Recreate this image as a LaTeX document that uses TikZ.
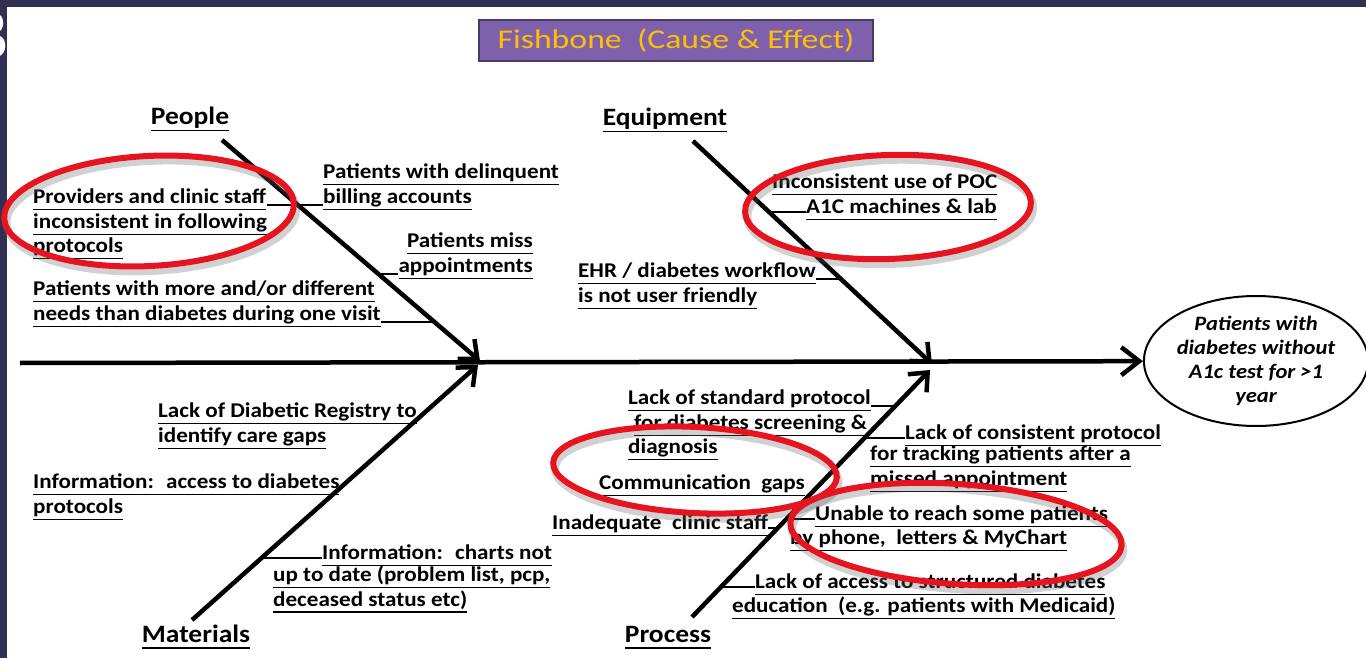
\documentclass[tikz,border=0pt]{standalone}
\usepackage{fontspec}
\setmainfont{Carlito}[FakeStretch=1.1]
\newfontfamily\titlefont{Carlito}[FakeStretch=1.25]
\newfontfamily\numfont{Liberation Serif}
\usetikzlibrary{arrows.meta,shapes.geometric}

\definecolor{slidebar}{RGB}{50,48,82}
\definecolor{titlefill}{RGB}{126,96,172}
\definecolor{titleborder}{RGB}{70,60,100}
\definecolor{titletext}{RGB}{255,192,0}
\definecolor{ringred}{RGB}{230,20,30}

% underline with a fixed depth
\newlength{\ulgap}
\setlength{\ulgap}{6.5pt}
\newcommand{\uln}[1]{\setbox0=\hbox{#1}\rlap{\rule[-\ulgap]{\wd0}{1.3pt}}\box0}

\newcommand{\causefont}{\fontsize{21}{24.5}\selectfont\bfseries}
\newcommand{\labelfont}{\fontsize{25}{28}\selectfont\bfseries}
\newcommand{\effectfont}{\fontsize{20.5}{24}\selectfont\bfseries\itshape}

\begin{document}
\begin{tikzpicture}[x=1pt,y=1pt,yscale=-1,
	bone/.style={line width=4.5pt,-{Straight Barb[length=15pt,width=26pt]}},
	spine/.style={line width=4.5pt,-{Straight Barb[length=18pt,width=28pt]}},
	branch/.style={line width=1.3pt},
	cause/.style={anchor=north west,inner sep=0pt,align=left,font=\causefont,execute at begin node=\strut},
	bonelabel/.style={anchor=base,inner sep=0pt,font=\labelfont},
	ring/.style={draw=ringred,line width=6pt},
	ringshade/.style={draw=black!60,opacity=.3,line width=8pt}]
	\useasboundingbox (0,0) rectangle (1366,658);
	
	%Slide frame
	\fill[slidebar] (0,0) rectangle (1366,7);
	\fill[slidebar] (0,0) rectangle (7,658);
	\node[anchor=east,inner sep=0pt,text=white,font=\numfont\fontsize{70}{70}\selectfont] (slideno) at (9,36) {3};
	
	% Title
	\node[draw=titleborder,line width=1.5pt,fill=titlefill,text=titletext,font=\titlefont\fontsize{27}{27}\selectfont,minimum width=394pt,minimum height=41pt,inner sep=0pt] (title) at (676,40.5) {Fishbone~ (Cause \& Effect)};
	
	% Effect
	\node[ellipse,draw,line width=2pt,minimum width=212pt,minimum height=130pt,inner sep=0pt,align=center,font=\effectfont] (effect) at (1256,361) {Patients with\\diabetes without\\A1c test for >1\\year};
	
	\coordinate (tail) at (20,363);
	\coordinate (peopleTop) at (222,140);
	\coordinate (peopleTip) at (480,361);
	\coordinate (equipTop) at (693,141);
	\coordinate (equipTip) at (932,364);
	\coordinate (matBot) at (192,620);
	\coordinate (matTip) at (478,365);
	\coordinate (procBot) at (692,617);
	\coordinate (procTip) at (930,370);
	
	%Straight Lines
	\draw[spine] (tail) -- (effect);
	\draw[bone] (peopleTop) -- (peopleTip);
	\draw[bone] (equipTop) -- (equipTip);
	\draw[bone] (matBot) -- (matTip);
	\draw[bone] (procBot) -- (procTip);
	
	% Bone labels
	\node[bonelabel] (people) at (190,125) {\uln{People}};
	\node[bonelabel] (equipment) at (665,126) {\uln{Equipment}};
	\node[bonelabel] (materials) at (196,642) {\uln{Materials}};
	\node[bonelabel] (process) at (668,642) {\uln{Process}};
	
	% Text Node
	\node[cause] (provid) at (33,189) {\uln{Providers and clinic staff}\\\uln{inconsistent in following}\\\uln{protocols}};
	\node[cause] (billing) at (323,164) {\uln{Patients with delinquent}\\\uln{billing accounts}};
	\node[cause,anchor=north east,align=right] (miss) at (533,233) {\uln{Patients miss}\\\uln{appointments}};
	\node[cause] (needs) at (33,281) {\uln{Patients with more and/or different}\\\uln{needs than diabetes during one visit}};
	% Text Node
	\node[cause] (poc1) at (772,171) {\uln{Inconsistent use of POC}};
	\node[cause] (poc2) at (806,196) {\uln{A1C machines \& lab}};
	\node[cause] (ehr) at (578,263) {\uln{EHR / diabetes workflow}\\\uln{is not user friendly}};
	% Text Node
	\node[cause] (registry) at (158,403) {\uln{Lack of Diabetic Registry to}\\\uln{identify care gaps}};
	\node[cause] (access) at (33,474) {\uln{Information:~ access to diabetes}\\\uln{protocols}};
	\node[cause] (charts1) at (322,542) {\uln{Information:~ charts not}};
	\node[cause] (charts2) at (273,566) {\uln{up to date (problem list, pcp,}\\\uln{deceased status etc)}};
	% Text Node
	\node[cause] (standard) at (628,390) {\uln{Lack of standard protocol}\\\hspace*{6pt}\uln{for diabetes screening \&}\\\uln{diagnosis}};
	\node[cause] (commgaps) at (599,472) {\uln{Communication~ gaps}};
	\node[cause] (tracking1) at (905,422) {\uln{Lack of consistent protocol}};
	\node[cause] (tracking2) at (870,446) {\uln{for tracking patients after a}\\\uln{missed appointment}};
	\node[cause] (staff) at (552,512) {\uln{Inadequate~ clinic staff}};
	\node[cause] (unable1) at (815,503) {\uln{Unable to reach some patients}};
	\node[cause] (unable2) at (790,527) {\uln{by phone,~ letters \& MyChart}};
	\node[cause] (educ1) at (755,571) {\uln{Lack of access to structured diabetes}};
	\node[cause] (educ2) at (732,595) {\uln{education~ (e.g. patients with Medicaid)}};
	
	% Points on the bones
	\path (peopleTop) -- (peopleTip) coordinate[pos=.294] (uProvid) coordinate[pos=.606] (uMiss) coordinate[pos=.824] (uNeeds);
	\path (equipTop) -- (equipTip) coordinate[pos=.318] (uPoc) coordinate[pos=.619] (uEhr);
	\path (matBot) -- (matTip) coordinate[pos=.788] (uRegistry) coordinate[pos=.510] (uAccess) coordinate[pos=.243] (uCharts);
	\path (procBot) -- (procTip) coordinate[pos=.854] (uStandard) coordinate[pos=.725] (uTracking) coordinate[pos=.397] (uUnable) coordinate[pos=.360] (uStaff) coordinate[pos=.121] (uEduc);
	
	%Straight Lines
	\draw[branch] (provid.east |- uProvid) -- (uProvid) -- (billing.west |- uProvid);
	\draw[branch] (uMiss) -- (miss.west |- uMiss);
	\draw[branch] (needs.east |- uNeeds) -- (uNeeds);
	\draw[branch] (uPoc) -- (poc2.west |- uPoc);
	\draw[branch] (ehr.east |- uEhr) -- (uEhr);
	\draw[branch] (registry.east |- uRegistry) -- (uRegistry);
	\draw[branch] (access.east |- uAccess) -- (uAccess);
	\draw[branch] (uCharts) -- (charts1.west |- uCharts);
	\draw[branch] (standard.east |- uStandard) -- (uStandard);
	\draw[branch] (uTracking) -- (tracking1.west |- uTracking);
	\draw[branch] (uUnable) -- (unable1.west |- uUnable);
	\draw[branch] (staff.east |- uStaff) -- (uStaff);
	\draw[branch] (uEduc) -- (educ1.west |- uEduc);
	
	% Red rings
	\coordinate (ringA) at (149,211);
	\coordinate (ringB) at (888,207);
	\coordinate (ringC) at (695,470);
	\coordinate (ringD) at (956,534);
	\draw[ringshade,rotate around={-3:(ringA)}] ([shift={(2,5)}]ringA) ellipse [x radius=145,y radius=55];
	\draw[ring,rotate around={-3:(ringA)}] (ringA) ellipse [x radius=145,y radius=55];
	\draw[ringshade,rotate around={-2:(ringB)}] ([shift={(2,5)}]ringB) ellipse [x radius=143,y radius=52];
	\draw[ring,rotate around={-2:(ringB)}] (ringB) ellipse [x radius=143,y radius=52];
	\draw[ringshade,rotate around={3:(ringC)}] ([shift={(2,5)}]ringC) ellipse [x radius=142,y radius=43];
	\draw[ring,rotate around={3:(ringC)}] (ringC) ellipse [x radius=142,y radius=43];
	\draw[ringshade,rotate around={4:(ringD)}] ([shift={(2,5)}]ringD) ellipse [x radius=166,y radius=50];
	\draw[ring,rotate around={4:(ringD)}] (ringD) ellipse [x radius=166,y radius=50];
\end{tikzpicture}
\end{document}
